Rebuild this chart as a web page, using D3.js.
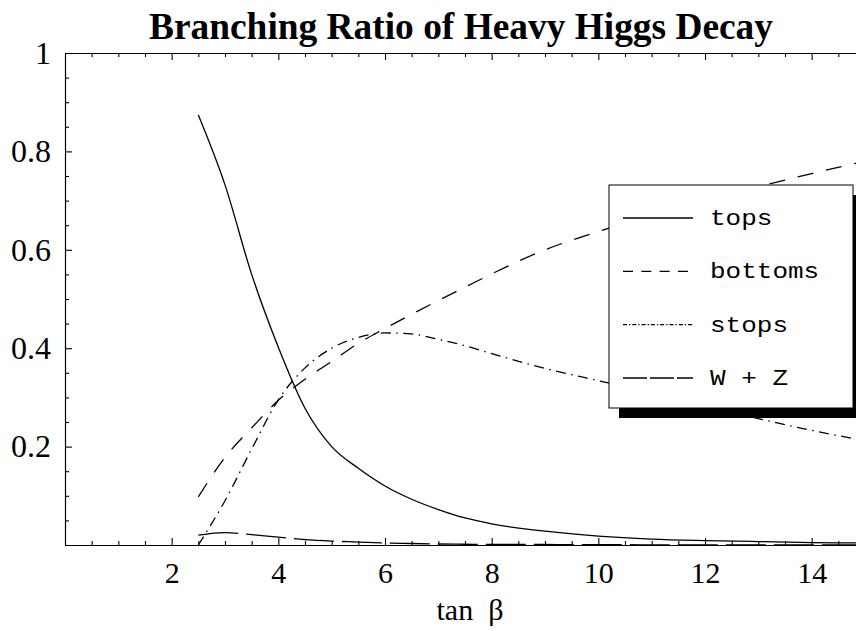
<!DOCTYPE html>
<html>
<head>
<meta charset="utf-8">
<script src="https://cdn.jsdelivr.net/npm/d3@7"></script>
<style>
  body { margin: 0; background: #fff; }
  .tick text { font-family: "Liberation Serif", "Times New Roman", serif; font-size: 30px; fill: #000; }
  .tick line, .domain { stroke: #000; stroke-width: 1.1; }
</style>
</head>
<body>
<div id="chart"></div>
<script>
// tan(beta) sample points and branching ratios
const tanBeta = [2.5, 3, 3.5, 4, 4.5, 5, 5.5, 6, 6.5, 7, 7.5, 8, 9, 10, 11, 12, 13, 14, 15];
const tops    = [0.874, 0.732, 0.55, 0.402, 0.278, 0.2, 0.156, 0.12, 0.093, 0.072, 0.055, 0.043, 0.028, 0.018, 0.012, 0.009, 0.007, 0.005, 0.004];
const bottoms = [0.098, 0.178, 0.238, 0.294, 0.337, 0.373, 0.41, 0.44, 0.469, 0.497, 0.524, 0.551, 0.6, 0.637, 0.67, 0.7, 0.728, 0.755, 0.78];
const stops   = [0.0, 0.09, 0.195, 0.295, 0.36, 0.4, 0.422, 0.431, 0.429, 0.418, 0.405, 0.389, 0.359, 0.334, 0.31, 0.284, 0.257, 0.233, 0.212];
const wz      = [0.02, 0.025, 0.021, 0.016, 0.011, 0.008, 0.006, 0.004, 0.003, 0.002, 0.0015, 0.001, 0.001, 0.0006, 0.0004, 0.0003, 0.0003, 0.0002, 0.0002];

const seriesNames = ["tops", "bottoms", "stops", "W + Z"];
const xMajor = [2, 4, 6, 8, 10, 12, 14];
const yMajor = [0.2, 0.4, 0.6, 0.8, 1];

const W = 856, H = 631;
const m = { left: 65, top: 53, right: 865, bottom: 545 };

const x = d3.scaleLinear().domain([0, 15]).range([m.left, m.right]);
const y = d3.scaleLinear().domain([0, 1]).range([m.bottom, m.top]);

const svg = d3.select("#chart").append("svg")
    .attr("width", W).attr("height", H)
    .style("display", "block");

// minor ticks every 0.5 on x, 0.05 on y
const xMinor = d3.range(0.5, 15.01, 0.5).filter(v => !xMajor.includes(v));
const yMinor = d3.range(0.05, 1, 0.05).filter(v => !yMajor.some(t => Math.abs(t - v) < 1e-6));

const addAxis = (axisFn, scale, tx, ty, vals, size, fmt, pad) => {
  return svg.append("g")
      .attr("transform", `translate(${tx},${ty})`)
      .call(axisFn(scale).tickValues(vals).tickSize(size).tickSizeOuter(0)
        .tickFormat(fmt || "").tickPadding(pad || 0));
};

// bottom
addAxis(d3.axisBottom, x, 0, m.bottom, xMinor, -4);
addAxis(d3.axisBottom, x, 0, m.bottom, xMajor, -7, d3.format("d"), 17);
// top (mirrored, no labels)
addAxis(d3.axisTop, x, 0, m.top, xMinor, -4);
addAxis(d3.axisTop, x, 0, m.top, xMajor, -7);
// left
addAxis(d3.axisLeft, y, m.left, 0, yMinor, -4);
addAxis(d3.axisLeft, y, m.left, 0, yMajor, -7, d => d === 1 ? "1" : d3.format(".1f")(d), 14)
  .selectAll(".tick text")
    .style("font-size", "32px");
// right
addAxis(d3.axisRight, y, m.right, 0, yMinor, -4);
addAxis(d3.axisRight, y, m.right, 0, yMajor, -7);

const line = d3.line()
    .x((d, i) => x(tanBeta[i]))
    .y(d => y(d))
    .curve(d3.curveMonotoneX);

const curves = [
  { values: tops,    dash: null,              legendDash: null },
  { values: bottoms, dash: "16,13",           legendDash: "10,8.3" },
  { values: stops,   dash: "10,5.5,1.5,5.5",  legendDash: "4,2,1.3,2" },
  { values: wz,      dash: "40,8",            legendDash: "24,3" }
];

svg.append("g").selectAll("path")
  .data(curves)
  .enter().append("path")
    .attr("d", d => line(d.values))
    .attr("fill", "none")
    .attr("stroke", "#000")
    .attr("stroke-width", 1.3)
    .attr("stroke-dasharray", d => d.dash);

// title and axis label
svg.append("text")
    .attr("x", 461).attr("y", 39)
    .attr("text-anchor", "middle")
    .attr("textLength", 624).attr("lengthAdjust", "spacingAndGlyphs")
    .style("font-family", "'Liberation Serif', 'Times New Roman', serif")
    .style("font-weight", "bold")
    .style("font-size", "37px")
    .text("Branching Ratio of Heavy Higgs Decay");

svg.append("text")
    .attr("x", 470).attr("y", 620)
    .attr("text-anchor", "middle")
    .style("font-family", "'Liberation Serif', 'Times New Roman', serif")
    .style("font-size", "30px")
    .style("white-space", "pre")
    .text("tan  β");

// legend with drop shadow
const lg = svg.append("g");
lg.append("rect")
    .attr("x", 619).attr("y", 195).attr("width", 250).attr("height", 223)
    .attr("fill", "#000");
lg.append("rect")
    .attr("x", 609).attr("y", 185).attr("width", 244).attr("height", 223)
    .attr("fill", "#fff").attr("stroke", "#000").attr("stroke-width", 1);

const rowY = d3.scalePoint().domain(seriesNames).range([218, 378]);

const rows = lg.selectAll("g.row")
  .data(seriesNames)
  .enter().append("g")
    .attr("class", "row")
    .attr("transform", d => `translate(0,${rowY(d)})`);

rows.append("line")
    .attr("x1", 623).attr("x2", 693)
    .attr("stroke", "#000").attr("stroke-width", 1.3)
    .attr("stroke-dasharray", (d, i) => curves[i].legendDash);

rows.append("text")
    .attr("x", 710).attr("y", 7)
    .attr("textLength", d => d.length * 15.6)
    .attr("lengthAdjust", "spacingAndGlyphs")
    .style("font-family", "'Liberation Mono', 'Courier New', monospace")
    .style("font-size", "22px")
    .style("white-space", "pre")
    .text(d => d);
</script>
</body>
</html>
